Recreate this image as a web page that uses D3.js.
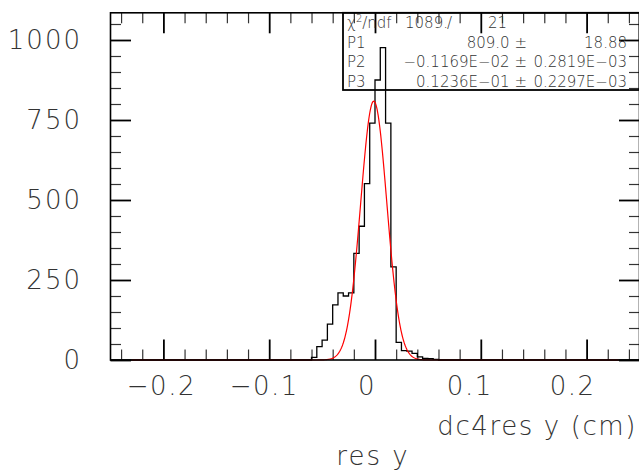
<!DOCTYPE html>
<html><head><meta charset="utf-8">
<script src="https://cdn.jsdelivr.net/npm/d3@7"></script>
<style>
body{margin:0;background:#fff}
svg{display:block}
text{font-family:"DejaVu Sans",sans-serif;fill:#333;font-weight:200}
</style>
</head><body>
<svg id="c" width="639" height="471"></svg>
<script>
// ---- data ----
const binLowEdges = [-0.060,-0.055,-0.050,-0.045,-0.040,-0.035,-0.030,-0.025,-0.020,-0.015,-0.010,-0.005,
                     0.000,0.005,0.010,0.015,0.020,0.025,0.030,0.035,0.040,0.045,0.050,0.055];
const binCounts   = [8,42,62,112,172,210,200,210,333,418,551,740,
                     875,976,740,291,55,29,28,21,10,5,4,2];
const binWidth = 0.005;
const xRange = [-0.25, 0.25];
const yRange = [0, 1085];
const fitParams = [809.0, -0.1169e-2, 0.1236e-1];   // P1 const, P2 mean, P3 sigma
const fitRange = [-0.23, 0.23];
const xTickValues = [-0.2, -0.1, 0, 0.1, 0.2];
const xTickLabels = ["\u22120.2", "\u22120.1", "0", "0.1", "0.2"];
const yTickValues = [0, 250, 500, 750, 1000];
const yTickLabels = ["0", "250", "500", "750", "1000"];
const statNames  = ["P1", "P2", "P3"];
const statValues = ["809.0 \u00b1", "\u22120.1169E\u221202 \u00b1", "0.1236E\u221201 \u00b1"];
const statErrors = ["18.88", "0.2819E\u221203", "0.2297E\u221203"];
const chi2 = "1089.";
const ndf = "21";
const xTitle = "dc4res y (cm)";
const histTitle = "res y";

// ---- layout ----
const L = 110.5, R = 639.5, T = 12.8, B = 360;
const svg = d3.select("#c");
const x = d3.scaleLinear().domain(xRange).range([L, R]);
const y = d3.scaleLinear().domain(yRange).range([B, T]);
const xLab = d3.scaleLinear().domain(xRange).range([367 - 257, 367 + 257]);

const xMinor = x.ticks(25).filter(v => !xTickValues.some(m => Math.abs(m - v) < 1e-9));
const yMinor = y.ticks(20).filter(v => !yTickValues.includes(v));

function styleAxis(g, w, col) {
  g.select(".domain").remove();
  g.selectAll("line").attr("stroke", col).attr("stroke-width", w);
  g.selectAll("text").remove();
}
function ticks(axisFn, scale, vals, size, w, col, tr) {
  svg.append("g").attr("transform", tr)
    .call(axisFn(scale).tickValues(vals).tickSize(-size).tickFormat(""))
    .call(g => styleAxis(g, w, col));
}
ticks(d3.axisBottom, x, xMinor, 10.5, 1.2, "#333", `translate(0,${B})`);
ticks(d3.axisBottom, x, xTickValues, 20.5, 1.8, "#000", `translate(0,${B})`);
ticks(d3.axisTop, x, xMinor, 10.5, 1.2, "#333", `translate(0,${T})`);
ticks(d3.axisTop, x, xTickValues, 20.5, 1.8, "#000", `translate(0,${T})`);
ticks(d3.axisLeft, y, yMinor, 10.5, 1.2, "#333", `translate(${L},0)`);
ticks(d3.axisLeft, y, yTickValues, 20.5, 1.8, "#000", `translate(${L},0)`);
ticks(d3.axisRight, y, yMinor, 10.5, 1.2, "#333", `translate(${R},0)`);
ticks(d3.axisRight, y, yTickValues, 20.5, 1.8, "#000", `translate(${R},0)`);

// histogram outline (steps)
const pts = [[xRange[0], 0], [binLowEdges[0], 0]];
binLowEdges.forEach((lo, i) => { pts.push([lo, binCounts[i]]); pts.push([lo + binWidth, binCounts[i]]); });
pts.push([binLowEdges[binLowEdges.length - 1] + binWidth, 0]);
pts.push([xRange[1], 0]);
const line = d3.line().x(d => x(d[0])).y(d => y(d[1]));
svg.append("path").attr("d", line(pts)).attr("fill", "none").attr("stroke", "#000").attr("stroke-width", 1.3);

// fit curve (gaussian with the fitted parameters)
const gauss = v => fitParams[0] * Math.exp(-0.5 * Math.pow((v - fitParams[1]) / fitParams[2], 2));
const fx = d3.range(fitRange[0], fitRange[1] + 1e-9, 0.0005);
svg.append("path").attr("d", line(fx.map(v => [v, gauss(v)])))
  .attr("fill", "none").attr("stroke", "#ff0000").attr("stroke-width", 1.2);

// frame
svg.append("rect").attr("x", L).attr("y", T).attr("width", R - L).attr("height", B - T)
  .attr("fill", "none").attr("stroke", "#000").attr("stroke-width", 1.6);

// tick labels
svg.append("g").selectAll("text").data(xTickValues).join("text")
  .attr("x", d => xLab(d)).attr("y", 395).attr("text-anchor", "middle")
  .attr("font-size", 26).attr("letter-spacing", 1.5).text((d, i) => xTickLabels[i]);
svg.append("g").selectAll("text").data(yTickValues).join("text")
  .attr("x", 82).attr("y", d => y(d) + 9).attr("text-anchor", "end")
  .attr("font-size", 26).attr("letter-spacing", 2).text((d, i) => yTickLabels[i]);

// titles
svg.append("text").attr("x", 637).attr("y", 435).attr("text-anchor", "end")
  .attr("font-size", 26).attr("letter-spacing", 1.6).text(xTitle);
svg.append("text").attr("x", 373).attr("y", 465).attr("text-anchor", "middle")
  .attr("font-size", 26).attr("letter-spacing", 2).text(histTitle);

// stat box
const bx = 343, bb = 90;
svg.append("rect").attr("x", bx).attr("y", T).attr("width", R - bx).attr("height", bb - T)
  .attr("fill", "none").attr("stroke", "#000").attr("stroke-width", 1.8);
const st = svg.append("g").attr("font-size", 15);
const c1 = st.append("text").attr("x", 347).attr("y", 28);
c1.append("tspan").text("\u03c7");
c1.append("tspan").attr("dy", -6).attr("font-size", 10).text("2");
c1.append("tspan").attr("dy", 6).text("/ndf");
st.append("text").attr("x", 405).attr("y", 28).text(chi2);
st.append("text").attr("x", 447).attr("y", 28).text("/");
st.append("text").attr("x", 507).attr("y", 28).attr("text-anchor", "end").text(ndf);
const rowY = [47.5, 67, 86.5];
statNames.forEach((n, i) => {
  st.append("text").attr("x", 347).attr("y", rowY[i]).text(n);
  st.append("text").attr("x", 527).attr("y", rowY[i]).attr("text-anchor", "end").text(statValues[i]);
  st.append("text").attr("x", 627).attr("y", rowY[i]).attr("text-anchor", "end").text(statErrors[i]);
});
</script>
</body></html>
